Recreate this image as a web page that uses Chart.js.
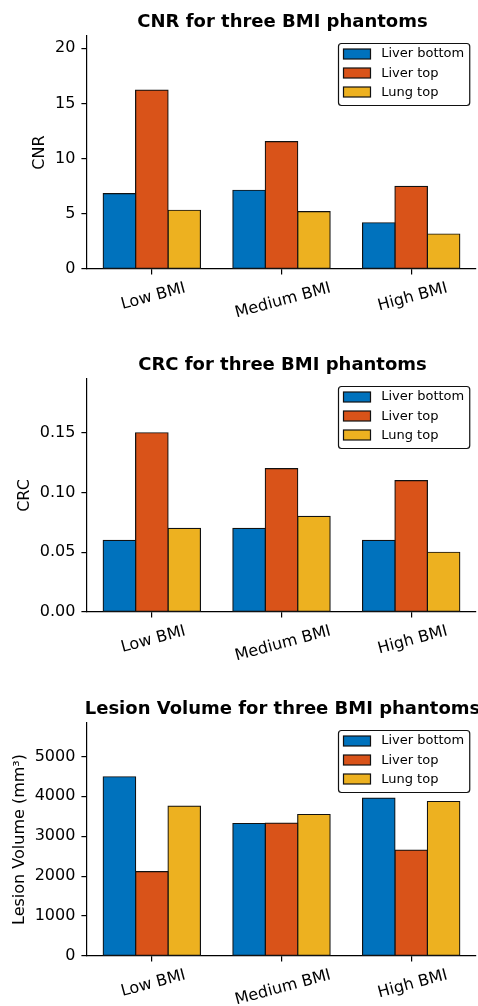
<!DOCTYPE html>
<html lang="en">
<head>
  <meta charset="UTF-8">
  <title>BMI phantoms</title>
  <script src="https://cdn.jsdelivr.net/npm/chart.js"></script>
  <style>
    body { margin: 0; background: #ffffff; }
    .panel { position: absolute; left: 0; width: 478px; height: 319px; }
  </style>
</head>
<body>
  <div class="panel" style="top:0px"><canvas id="cnrChart" width="478" height="319"></canvas></div>
  <div class="panel" style="top:343px"><canvas id="crcChart" width="478" height="319"></canvas></div>
  <div class="panel" style="top:687px"><canvas id="volChart" width="478" height="319"></canvas></div>

  <script>
    const categories = ['Low BMI', 'Medium BMI', 'High BMI'];
    const seriesNames = ['Liver bottom', 'Liver top', 'Lung top'];

    const cnrLiverBottom = [6.82, 7.13, 4.19];
    const cnrLiverTop = [16.2, 11.53, 7.49];
    const cnrLungTop = [5.32, 5.19, 3.17];
    const cnrTicks = [0, 5, 10, 15, 20];

    const crcLiverBottom = [0.06, 0.07, 0.06];
    const crcLiverTop = [0.15, 0.12, 0.11];
    const crcLungTop = [0.07, 0.08, 0.05];
    const crcTicks = [0, 0.05, 0.10, 0.15];

    const volLiverBottom = [4490, 3319, 3954];
    const volLiverTop = [2115, 3327, 2650];
    const volLungTop = [3754, 3545, 3871];
    const volTicks = [0, 1000, 2000, 3000, 4000, 5000];

    const colors = ['#0072BD', '#D95319', '#EDB120'];
    const FONT = "'DejaVu Sans', sans-serif";

    Chart.defaults.font.family = FONT;
    Chart.defaults.color = '#000';

    // title, y label, rotated x labels and framed legend, drawn the matplotlib way
    const mplLook = {
      id: 'mplLook',
      afterDraw(chart, args, opts) {
        const ctx = chart.ctx;
        const area = chart.chartArea;
        const xs = chart.scales.x;
        const ys = chart.scales.y;
        ctx.save();
        ctx.fillStyle = '#000';

        ctx.font = 'bold 18px ' + FONT;
        ctx.textAlign = 'center';
        ctx.textBaseline = 'alphabetic';
        ctx.fillText(opts.title, (area.left + area.right) / 2 + 1, area.top - 9.5);

        ctx.font = '16px ' + FONT;
        let maxW = 0;
        ys.ticks.forEach(t => { maxW = Math.max(maxW, ctx.measureText(String(t.label)).width); });
        const lx = area.left - 11 - maxW - 15.5;
        ctx.save();
        ctx.translate(lx, (area.top + area.bottom) / 2);
        ctx.rotate(-Math.PI / 2);
        ctx.textBaseline = 'middle';
        ctx.fillText(opts.yLabel, 0, 0);
        ctx.restore();

        const rot = 15 * Math.PI / 180;
        const lineH = 16 * 1.164;
        chart.data.labels.forEach((lab, i) => {
          const w = ctx.measureText(lab).width;
          const h = w * Math.sin(rot) + lineH * Math.cos(rot);
          ctx.save();
          ctx.translate(xs.getPixelForValue(i) + 1.5, area.bottom + 10 + h / 2);
          ctx.rotate(-rot);
          ctx.textAlign = 'center';
          ctx.textBaseline = 'middle';
          ctx.fillText(lab, 0, 0);
          ctx.restore();
        });

        // legend box
        ctx.font = '13px ' + FONT;
        const sets = chart.data.datasets;
        const textW = Math.max(...sets.map(d => ctx.measureText(d.label).width));
        const bw = 42.7 + textW + 5.5;
        const bh = 62;
        const right = area.right - 6.5;
        const top = Math.round(area.top + 6.5) + 0.5;
        const left = Math.round(right - bw) + 0.5;
        const r = 3;
        ctx.beginPath();
        ctx.moveTo(left + r, top);
        ctx.lineTo(left + bw - r, top);
        ctx.arcTo(left + bw, top, left + bw, top + r, r);
        ctx.lineTo(left + bw, top + bh - r);
        ctx.arcTo(left + bw, top + bh, left + bw - r, top + bh, r);
        ctx.lineTo(left + r, top + bh);
        ctx.arcTo(left, top + bh, left, top + bh - r, r);
        ctx.lineTo(left, top + r);
        ctx.arcTo(left, top, left + r, top, r);
        ctx.closePath();
        ctx.fillStyle = 'rgba(255,255,255,0.8)';
        ctx.fill();
        ctx.strokeStyle = '#111';
        ctx.lineWidth = 1.2;
        ctx.stroke();

        sets.forEach((d, i) => {
          const cy = top + 10.5 + i * 19.2;
          ctx.fillStyle = d.backgroundColor;
          ctx.fillRect(left + 5, Math.round(cy - 5), 27, 10);
          ctx.strokeStyle = '#111';
          ctx.lineWidth = 1.2;
          ctx.strokeRect(left + 5, Math.round(cy - 5), 27, 10);
          ctx.fillStyle = '#000';
          ctx.textAlign = 'left';
          ctx.textBaseline = 'middle';
          ctx.fillText(d.label, left + 42.7, cy);
        });
        ctx.restore();
      }
    };

    function makeChart(id, title, yLabel, series, yMax, tickValues, fmt) {
      const ctx = document.getElementById(id).getContext('2d');
      return new Chart(ctx, {
        type: 'bar',
        data: {
          labels: categories,
          datasets: series.map((vals, i) => ({
            label: seriesNames[i],
            data: vals,
            backgroundColor: colors[i],
            borderColor: '#111',
            borderWidth: 1.2,
            borderSkipped: false,
            inflateAmount: 0.6,
            categoryPercentage: 0.75,
            barPercentage: 1.0
          }))
        },
        options: {
          responsive: false,
          animation: false,
          layout: { padding: { top: 36, right: 2, left: 0, bottom: 0 } },
          plugins: {
            legend: { display: false },
            tooltip: { enabled: false },
            mplLook: { title: title, yLabel: yLabel }
          },
          scales: {
            x: {
              ticks: { display: false },
              grid: { display: true, drawOnChartArea: false, drawTicks: true, tickLength: 5.6, offset: false, color: '#000', lineWidth: 1.2 },
              border: { color: '#000', width: 1.2 },
              afterFit(s) { s.height = 50; }
            },
            y: {
              min: 0,
              max: yMax,
              afterBuildTicks(s) { s.ticks = tickValues.map(v => ({ value: v })); },
              ticks: { font: { size: 16 }, color: '#000', padding: 6, callback: fmt },
              grid: { drawOnChartArea: false, drawTicks: true, tickLength: 5.6, color: '#000', lineWidth: 1.2 },
              border: { color: '#000', width: 1.2 },
              afterFit(s) { s.width = 87; }
            }
          }
        },
        plugins: [mplLook]
      });
    }

    makeChart('cnrChart', 'CNR for three BMI phantoms', 'CNR',
      [cnrLiverBottom, cnrLiverTop, cnrLungTop], 21.1, cnrTicks, v => String(v));
    makeChart('crcChart', 'CRC for three BMI phantoms', 'CRC',
      [crcLiverBottom, crcLiverTop, crcLungTop], 0.195, crcTicks, v => Number(v).toFixed(2));
    makeChart('volChart', 'Lesion Volume for three BMI phantoms', 'Lesion Volume (mm\u00B3)',
      [volLiverBottom, volLiverTop, volLungTop], 5837, volTicks, v => String(v));
  </script>
</body>
</html>
